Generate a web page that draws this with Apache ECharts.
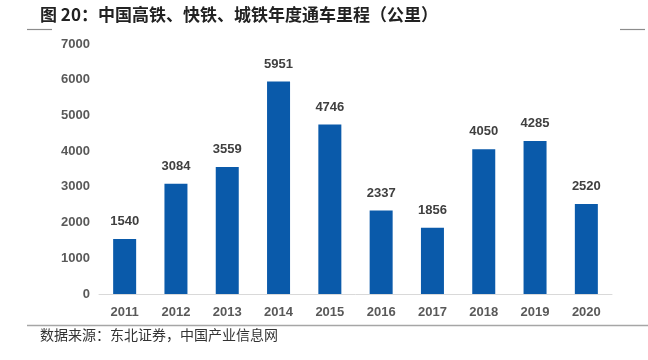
<!DOCTYPE html>
<html>
<head>
<meta charset="utf-8">
<script src="https://cdn.jsdelivr.net/npm/echarts@6/dist/echarts.min.js"></script>
<style>html,body{margin:0;padding:0;background:#fff;}#c{width:648px;height:360px;}</style>
</head>
<body>
<div id="c"></div>
<script>
const years = ['2011','2012','2013','2014','2015','2016','2017','2018','2019','2020'];
const mileage = [1540, 3084, 3559, 5951, 4746, 2337, 1856, 4050, 4285, 2520];
const yMin = 0, yMax = 7000, yStep = 1000;
const titleText = '图 20：中国高铁、快铁、城铁年度通车里程（公里）';
const sourceText = '数据来源：东北证券，中国产业信息网';

const numFont = '"Liberation Sans", Arial, sans-serif';
const cjkFont = '"Noto Sans CJK SC", sans-serif';
const chart = echarts.init(document.getElementById('c'), null, {renderer: 'canvas'});
chart.setOption({
  animation: false,
  backgroundColor: '#fff',
  grid: {left: 99, right: 36, top: 44, bottom: 66, containLabel: false},
  xAxis: {
    type: 'category', data: years,
    axisLine: {show: true, lineStyle: {color: '#d9d9d9', width: 1}},
    axisTick: {show: false},
    axisLabel: {margin: 12, color: '#595959', fontSize: 13, fontFamily: numFont, fontWeight: 'bold'}
  },
  yAxis: {
    type: 'value', min: yMin, max: yMax, interval: yStep,
    axisLine: {show: false}, axisTick: {show: false}, splitLine: {show: false},
    axisLabel: {margin: 9, color: '#595959', fontSize: 13, fontFamily: numFont, fontWeight: 'bold',
      formatter: v => String(v)}
  },
  series: [{
    type: 'bar', data: mileage, barWidth: 23,
    itemStyle: {color: '#0a5aaa'},
    label: {show: true, position: 'top', distance: 11, color: '#404040', fontSize: 13, fontFamily: numFont, fontWeight: 'bold'}
  }],
  graphic: [
    {type: 'text', left: 40, top: 6, style: {text: titleText, font: 'bold 17px ' + cjkFont, fill: '#222'}},
    {type: 'line', shape: {x1: 27, y1: 29.5, x2: 52, y2: 29.5}, style: {stroke: '#8c8c8c', lineWidth: 1.2}},
    {type: 'line', shape: {x1: 620, y1: 29.5, x2: 645, y2: 29.5}, style: {stroke: '#8c8c8c', lineWidth: 1.2}},
    {type: 'line', shape: {x1: 27, y1: 325.5, x2: 648, y2: 325.5}, style: {stroke: '#a6a6a6', lineWidth: 1.5}},
    {type: 'text', left: 40, top: 328, style: {text: sourceText, font: '14px ' + cjkFont, fill: '#333'}}
  ]
});
</script>
</body>
</html>
